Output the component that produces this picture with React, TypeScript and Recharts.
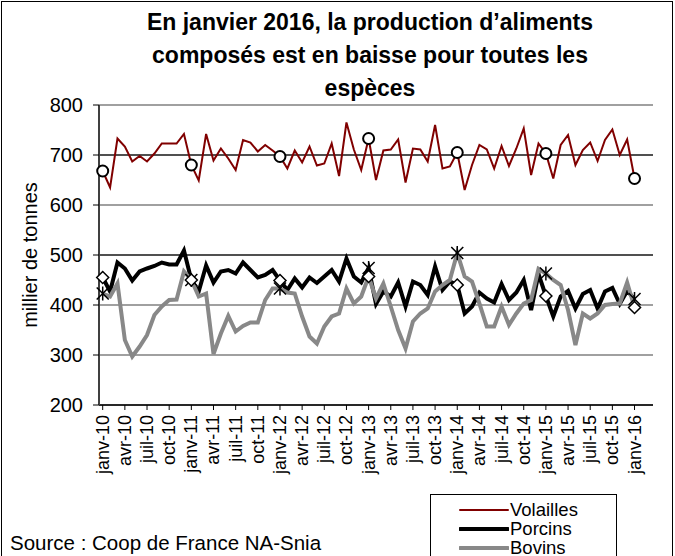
import React from 'react'
import {
  LineChart,
  Line,
  XAxis,
  YAxis,
  CartesianGrid,
  ReferenceLine,
  Label,
} from 'recharts'

const FONT = 'Arial, "Liberation Sans", sans-serif'

// libellés des mois, de janv-10 à mars-16 (75 catégories, données jusqu'à janv-16)
const moisNoms = ['janv', 'févr', 'mars', 'avr', 'mai', 'juin', 'juil', 'août', 'sept', 'oct', 'nov', 'déc']
const mois: string[] = []
for (let a = 10; a <= 16; a++) {
  for (const m of moisNoms) {
    if (mois.length < 75) mois.push(`${m}-${a}`)
  }
}

// milliers de tonnes
const volailles = [
  668, 635, 733, 717, 687, 698, 687, 703, 723, 723, 723, 742,
  680, 649, 742, 689, 713, 693, 670, 730, 725, 707, 720, 709,
  697, 673, 709, 685, 717, 679, 683, 723, 658, 765, 711, 670,
  733, 650, 709, 711, 731, 645, 713, 711, 687, 760, 673, 677,
  705, 630, 680, 720, 711, 673, 718, 678, 713, 753, 660, 723,
  703, 653, 720, 740, 680, 710, 725, 688, 730, 751, 700, 731,
  653,
]
const porcins = [
  455, 427, 485, 473, 449, 467, 473, 478, 485, 481, 481, 509,
  450, 427, 479, 445, 467, 470, 463, 485, 470, 455, 460, 470,
  449, 430, 453, 435, 455, 444, 457, 470, 447, 493, 457, 445,
  474, 402, 427, 417, 445, 397, 447, 440, 420, 477, 430, 447,
  440, 383, 397, 425, 413, 405, 442, 410, 425, 450, 390, 462,
  418, 377, 417, 428, 393, 422, 430, 393, 427, 434, 402, 428,
  412,
]
const bovins = [
  423, 417, 443, 330, 297, 317, 340, 380, 397, 410, 411, 467,
  450, 417, 423, 302, 343, 378, 347, 358, 365, 365, 410, 433,
  433, 425, 423, 377, 337, 323, 357, 377, 383, 433, 403, 417,
  457, 413, 443, 397, 350, 313, 367, 383, 393, 427, 440, 450,
  504, 457, 447, 403, 357, 357, 397, 360, 383, 403, 410, 472,
  463, 450, 440, 390, 320, 383, 373, 383, 400, 402, 403, 445,
  395,
]
// repères de janvier
const janvEtoile = [423, 450, 433, 474, 504, 463, 412]
const janvLosange = [455, 450, 449, 457, 440, 418, 395]

const yTicks = [200, 300, 400, 500, 600, 700, 800]

const data = mois.map((m, i) => ({
  mois: m,
  volailles: volailles[i] ?? null,
  porcins: porcins[i] ?? null,
  bovins: bovins[i] ?? null,
  etoile: i % 12 === 0 ? janvEtoile[i / 12] ?? null : null,
  losange: i % 12 === 0 ? janvLosange[i / 12] ?? null : null,
}))

const CircleDot = (props: any) => {
  const { cx, cy, index } = props
  if (index % 12 !== 0 || cy == null) return <g key={index} />
  return <circle key={index} cx={cx} cy={cy} r={5.5} fill="#fff" stroke="#000" strokeWidth={2} />
}

const StarDot = (props: any) => {
  const { cx, cy, index, value } = props
  if (value == null || cy == null) return <g key={index} />
  const s = 6
  return (
    <g key={index} stroke="#000" strokeWidth={1.5}>
      <line x1={cx - s} y1={cy - s} x2={cx + s} y2={cy + s} />
      <line x1={cx - s} y1={cy + s} x2={cx + s} y2={cy - s} />
      <line x1={cx} y1={cy - s - 1} x2={cx} y2={cy + s + 1} />
    </g>
  )
}

const DiamondDot = (props: any) => {
  const { cx, cy, index, value } = props
  if (value == null || cy == null) return <g key={index} />
  const s = 6
  return (
    <polygon
      key={index}
      points={`${cx},${cy - s} ${cx + s},${cy} ${cx},${cy + s} ${cx - s},${cy}`}
      fill="#fff"
      stroke="#000"
      strokeWidth={1.5}
    />
  )
}

const XTick = (props: any) => {
  const { x, y, payload } = props
  return (
    <text
      x={x}
      y={y + 3}
      transform={`rotate(-90 ${x} ${y + 3})`}
      textAnchor="end"
      dominantBaseline="central"
      fontSize={18}
      fontFamily={FONT}
      fill="#000"
    >
      {payload.value}
    </text>
  )
}

const legendItems = [
  { name: 'Volailles', color: '#800000', width: 2 },
  { name: 'Porcins', color: '#000', width: 4 },
  { name: 'Bovins', color: '#888', width: 4 },
]

export default function App() {
  return (
    <div
      style={{
        position: 'absolute',
        left: 0,
        top: 0,
        width: 675,
        height: 556,
        background: '#fff',
        fontFamily: FONT,
        overflow: 'hidden',
      }}
    >
      <div
        style={{
          position: 'absolute',
          left: 1,
          top: 1,
          width: 670,
          height: 600,
          border: '1px solid #000',
        }}
      />
      <div
        style={{
          position: 'absolute',
          left: 40,
          top: 6,
          width: 660,
          textAlign: 'center',
          fontWeight: 'bold',
          fontSize: 23,
          lineHeight: '33px',
          color: '#000',
        }}
      >
        En janvier 2016, la production d’aliments
        <br />
        composés est en baisse pour toutes les
        <br />
        espèces
      </div>
      <div style={{ position: 'absolute', left: 0, top: 0 }}>
        <LineChart
          width={675}
          height={556}
          data={data}
          margin={{ top: 105, right: 22, bottom: 0, left: 0 }}
        >
          <CartesianGrid horizontal vertical={false} stroke="#808080" strokeWidth={1.5} />
          <ReferenceLine y={700} stroke="#000" strokeWidth={1} />
          <ReferenceLine y={500} stroke="#000" strokeWidth={1} />
          <XAxis
            dataKey="mois"
            interval={2}
            height={151}
            padding={{ left: 3.7, right: 3.7 }}
            tick={<XTick />}
            tickLine={{ stroke: '#000' }}
            tickSize={5}
            axisLine={{ stroke: '#000', strokeWidth: 1.5 }}
          />
          <YAxis
            width={99}
            domain={[200, 800]}
            ticks={yTicks}
            interval={0}
            tick={{ fontSize: 20, fontFamily: FONT, fill: '#000' }}
            tickLine={{ stroke: '#000' }}
            tickSize={6}
            tickMargin={10}
            axisLine={{ stroke: '#404040', strokeWidth: 2 }}
          >
            <Label
              content={(p: any) => {
                const vb = p.viewBox
                const cx = vb.x + 30
                const cy = vb.y + vb.height / 2
                return (
                  <text
                    x={cx}
                    y={cy}
                    transform={`rotate(-90 ${cx} ${cy})`}
                    textAnchor="middle"
                    dominantBaseline="central"
                    fontSize={20}
                    fontFamily={FONT}
                    fill="#000"
                  >
                    millier de tonnes
                  </text>
                )
              }}
            />
          </YAxis>
          <YAxis
            yAxisId="r"
            orientation="right"
            width={0}
            domain={[200, 800]}
            tick={false}
            tickLine={false}
            axisLine={{ stroke: '#808080', strokeWidth: 2 }}
          />
          <Line
            dataKey="volailles"
            stroke="#800000"
            strokeWidth={2}
            dot={CircleDot}
            activeDot={false}
            isAnimationActive={false}
          />
          <Line
            dataKey="porcins"
            stroke="#000"
            strokeWidth={4}
            dot={false}
            activeDot={false}
            isAnimationActive={false}
          />
          <Line
            dataKey="bovins"
            stroke="#888"
            strokeWidth={4}
            dot={false}
            activeDot={false}
            isAnimationActive={false}
          />
          <Line
            dataKey="etoile"
            stroke="none"
            dot={StarDot}
            activeDot={false}
            legendType="none"
            isAnimationActive={false}
          />
          <Line
            dataKey="losange"
            stroke="none"
            dot={DiamondDot}
            activeDot={false}
            legendType="none"
            isAnimationActive={false}
          />
        </LineChart>
      </div>
      <div
        style={{
          position: 'absolute',
          left: 10,
          top: 531,
          fontSize: 20.5,
          lineHeight: '23px',
          color: '#000',
          whiteSpace: 'nowrap',
        }}
      >
        Source : Coop de France NA-Snia
      </div>
      <div
        style={{
          position: 'absolute',
          left: 430,
          top: 494,
          width: 185,
          height: 80,
          border: '1px solid #000',
          background: '#fff',
        }}
      >
        {legendItems.map((it, k) => (
          <div
            key={it.name}
            style={{
              position: 'absolute',
              left: 28,
              top: 5 + k * 19,
              height: 19,
              lineHeight: '19px',
              display: 'flex',
              alignItems: 'center',
              fontSize: 18.5,
              whiteSpace: 'nowrap',
            }}
          >
            <svg width={50} height={10}>
              <line x1={1} y1={5} x2={49} y2={5} stroke={it.color} strokeWidth={it.width} strokeLinecap="round" />
            </svg>
            <span style={{ marginLeft: 1 }}>{it.name}</span>
          </div>
        ))}
      </div>
    </div>
  )
}
